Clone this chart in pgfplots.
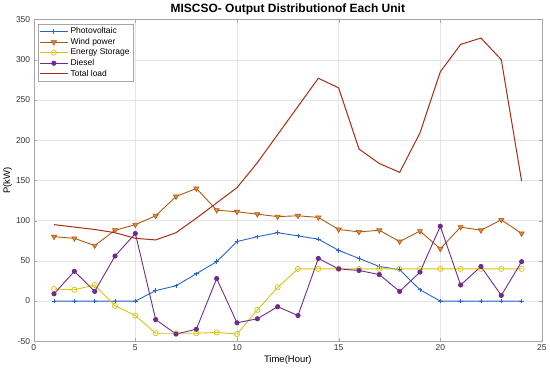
\documentclass[border=0pt]{standalone}
\usepackage{fontspec}
\setmainfont{Liberation Sans}
\usepackage{pgfplots}
\pgfplotsset{compat=1.18}
\definecolor{pv}{RGB}{40,100,200}
\definecolor{wind}{RGB}{170,90,20}
\definecolor{windfill}{RGB}{230,140,50}
\definecolor{ess}{RGB}{215,195,20}
\definecolor{diesel}{RGB}{110,45,140}
\definecolor{load}{RGB}{165,45,20}
\begin{document}
\begin{tikzpicture}
\begin{axis}[
  scale only axis, width=507bp, height=321bp,
  xmin=0, xmax=25, ymin=-50, ymax=350,
  xtick={0,5,...,25}, ytick={-50,0,...,350},
  grid=major, major grid style={gray!20},
  axis line style={gray!70}, tick style={gray!70},
  tick align=inside, major tick length=3bp,
  ticklabel style={font=\fontsize{8.5}{9}\selectfont, text=black!80},
  /pgf/number format/assume math mode=true,
  title={\bfseries MISCSO- Output Distributionof Each Unit},
  title style={font=\fontsize{12}{13}\selectfont, yshift=-4.5bp},
  xlabel={Time(Hour)}, ylabel={P(kW)},
  label style={font=\fontsize{9.5}{10}\selectfont},
  xlabel style={yshift=2bp}, ylabel style={yshift=-3bp},
  legend pos=north west,
  legend style={font=\fontsize{8.5}{9.5}\selectfont, draw=gray!70, inner sep=1.2bp, row sep=-1bp, at={(0.008,0.985)}},
  legend cell align=left,
  legend image code/.code={\draw[mark repeat=2,mark phase=2,#1] plot coordinates {(0cm,0cm)(0.5cm,0cm)(1cm,0cm)};},
  every axis plot/.append style={line width=0.9pt},
]
\addplot[color=pv, mark=+, mark size=2.2pt] coordinates {
(1,0)(2,0)(3,0)(4,0)(5,0)(6,13)(7,19)(8,34)(9,49)(10,74)(11,80)(12,85)
(13,81)(14,77)(15,63)(16,53)(17,43)(18,39)(19,14)(20,0)(21,0)(22,0)(23,0)(24,0)};
\addlegendentry{Photovoltaic}
\addplot[color=wind, mark=triangle*, mark options={rotate=180, fill=windfill, draw=wind, line width=0.6pt}, mark size=3pt] coordinates {
(1,80)(2,78)(3,69)(4,88)(5,95)(6,106)(7,130)(8,140)(9,113)(10,111)(11,108)(12,105)
(13,106)(14,104)(15,89)(16,86)(17,88)(18,74)(19,87)(20,65)(21,92)(22,88)(23,101)(24,84)};
\addlegendentry{Wind power}
\addplot[color=ess, mark=o, mark size=2.6pt, mark options={line width=0.7pt}] coordinates {
(1,15)(2,14)(3,20)(4,-6)(5,-18)(6,-40)(7,-40)(8,-40)(9,-39)(10,-41)(11,-11)(12,17)
(13,40)(14,40)(15,40)(16,40)(17,40)(18,40)(19,40)(20,40)(21,40)(22,40)(23,40)(24,40)};
\addlegendentry{Energy Storage}
\addplot[color=diesel, mark=*, mark size=2.1pt] coordinates {
(1,9)(2,37)(3,12)(4,56)(5,84)(6,-23)(7,-41)(8,-35)(9,28)(10,-27)(11,-22)(12,-7)
(13,-18)(14,53)(15,40)(16,38)(17,33)(18,12)(19,36)(20,93)(21,20)(22,43)(23,7)(24,49)};
\addlegendentry{Diesel}
\addplot[color=load, line width=1pt] coordinates {
(1,95)(2,92)(3,89)(4,85)(5,78)(6,76)(7,85)(8,103)(9,122)(10,141)(11,172)(12,207)
(13,242)(14,277)(15,265)(16,189)(17,171)(18,160)(19,209)(20,285)(21,319)(22,327)(23,300)(24,149)};
\addlegendentry{Total load}
\end{axis}
\end{tikzpicture}
\end{document}
